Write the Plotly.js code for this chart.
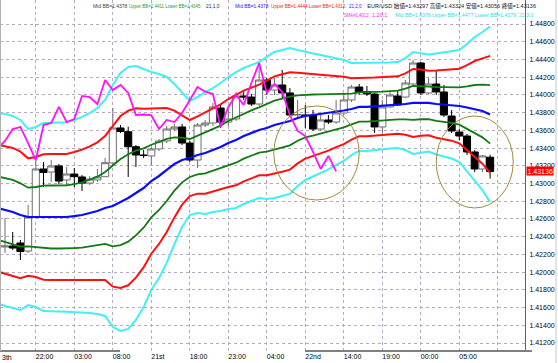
<!DOCTYPE html>
<html><head><meta charset="utf-8">
<script src="https://cdn.plot.ly/plotly-3.0.1.min.js"></script>
<style>html,body{margin:0;padding:0;background:#fff}#chart{width:558px;height:363px}</style>
</head><body><div id="chart"></div>
<script>
// ---- data (EUR/USD hourly bars) ----
const open = [1.42306,1.42284,1.42295,1.42329,1.42238,1.42622,1.43164,1.43130,1.43198,1.43040,
1.43107,1.43074,1.43005,1.43040,1.43077,1.43232,1.43627,1.43585,1.43415,1.43322,
1.43311,1.43390,1.43480,1.43615,1.43638,1.43457,1.43265,1.43660,1.43683,1.43852,
1.43694,1.43728,1.43988,1.43976,1.43897,1.44168,1.44055,1.44112,1.44022,1.43773,
1.43773,1.43773,1.43615,1.43717,1.43694,1.43796,1.43943,1.44089,1.44036,1.44010,
1.43638,1.43864,1.43988,1.43976,1.44123,1.44360,1.44022,1.44123,1.44033,1.43762,
1.43581,1.43536,1.43356,1.43164,1.43297];
const high = [1.42385,1.42611,1.42453,1.42363,1.42758,1.43277,1.43243,1.43265,1.43220,1.43186,
1.43175,1.43096,1.43085,1.43164,1.43288,1.43852,1.43660,1.43641,1.43435,1.43378,
1.43412,1.43502,1.43649,1.43672,1.43672,1.43480,1.43683,1.43717,1.43909,1.43897,
1.43830,1.44033,1.44033,1.44010,1.44349,1.44191,1.44191,1.44281,1.44078,1.43943,
1.43886,1.43830,1.43773,1.43773,1.43943,1.43999,1.44112,1.44123,1.44101,1.44022,
1.43943,1.44033,1.44055,1.44168,1.44394,1.44371,1.44191,1.44281,1.44112,1.43830,
1.43615,1.43559,1.43378,1.43322,1.43324];
const low = [1.42227,1.42216,1.42250,1.42137,1.42216,1.42611,1.42961,1.43017,1.42994,1.42983,
1.42961,1.42916,1.42983,1.43017,1.43074,1.43209,1.43570,1.43074,1.43186,1.43288,
1.43209,1.43367,1.43457,1.43593,1.43435,1.43243,1.43175,1.43638,1.43649,1.43627,
1.43649,1.43706,1.43943,1.43875,1.43875,1.43999,1.43999,1.43965,1.43751,1.43751,
1.43627,1.43593,1.43593,1.43672,1.43672,1.43773,1.43920,1.43999,1.43988,1.43570,
1.43570,1.43852,1.43875,1.43965,1.44101,1.43999,1.44010,1.43999,1.43751,1.43570,
1.43491,1.43322,1.43130,1.43130,1.43056];
const close = [1.42284,1.42295,1.42272,1.42233,1.42622,1.43164,1.43124,1.43198,1.43028,1.43107,
1.43077,1.43005,1.43051,1.43074,1.43235,1.43627,1.43587,1.43415,1.43322,1.43316,
1.43390,1.43480,1.43615,1.43638,1.43457,1.43265,1.43660,1.43683,1.43864,1.43694,
1.43728,1.43988,1.43976,1.43897,1.44168,1.44055,1.44112,1.44022,1.43773,1.43779,
1.43768,1.43615,1.43717,1.43694,1.43796,1.43943,1.44089,1.44036,1.44010,1.43638,
1.43864,1.43999,1.43886,1.44134,1.44360,1.44022,1.44123,1.44033,1.43773,1.43593,
1.43536,1.43356,1.43164,1.43311,1.43136];
const bbMid = [1.42724,1.42701,1.42679,1.42645,1.42622,1.42622,1.42622,1.42622,1.42622,1.42622,
1.42633,1.42645,1.42667,1.42690,1.42724,1.42746,1.42791,1.42837,1.42893,1.42949,
1.43028,1.43085,1.43153,1.43220,1.43265,1.43288,1.43322,1.43344,1.43378,1.43412,
1.43457,1.43491,1.43536,1.43570,1.43604,1.43627,1.43660,1.43683,1.43706,1.43739,
1.43762,1.43773,1.43785,1.43796,1.43813,1.43824,1.43841,1.43864,1.43864,1.43869,
1.43875,1.43880,1.43886,1.43897,1.43909,1.43912,1.43909,1.43897,1.43892,1.43886,
1.43875,1.43858,1.43841,1.43818,1.43780];
const bbSigma = [0.003574,0.003611,0.003611,0.003574,0.003310,0.003386,0.003536,0.003555,0.003555,0.003562,
0.003611,0.003687,0.003761,0.003874,0.004063,0.004551,0.004853,0.004928,0.004777,0.004477,
0.004100,0.003837,0.003498,0.003010,0.002520,0.002144,0.002181,0.002294,0.002332,0.002407,
0.002483,0.002558,0.002558,0.002558,0.002558,0.002671,0.002746,0.002746,0.002746,0.002558,
0.002407,0.002313,0.002219,0.002125,0.002012,0.001899,0.001730,0.001655,0.001655,0.001636,
0.001617,0.001617,0.001617,0.001730,0.001918,0.001870,0.001824,0.001899,0.001956,0.002012,
0.002106,0.002389,0.002708,0.002972,0.003300];
const smaShift = 20;           // SMA(1) shifted 20 bars back
const timeTickBars = [5,10,15,20,25,30,35,40,45,50,55,60,65];
const timeTickText = ["22:00","03:00","08:00","21st","18:00","23:00","04:00","22nd","14:00","19:00","00:00","05:00",""];
const priceTicks = [1.412,1.414,1.416,1.418,1.420,1.422,1.424,1.426,1.428,1.430,1.432,1.434,1.436,1.438,1.440,1.442,1.444,1.446,1.448];
const lastPrice = 1.43136;

const bars = close.map((_, i) => i);
const band = (k, s) => bbMid.map((m, i) => m + s * k * bbSigma[i]);

const F = "Arial, 'Liberation Sans', 'Noto Sans CJK JP', sans-serif";
const traces = [
  {type:'candlestick', x:bars, open:open, high:high, low:low, close:close,
   increasing:{line:{color:'#6e6e6e', width:1}, fillcolor:'#ffffff'},
   decreasing:{line:{color:'#000000', width:1}, fillcolor:'#000000'},
   whiskerwidth:0, hoverinfo:'skip', showlegend:false},
];
const bandStyle = [[3,'#3ff0f4',2],[2,'#ff1010',2],[1,'#127a12',1.8]];
bandStyle.forEach(([k,c,w]) => {
  [1,-1].forEach(s => traces.push({type:'scatter', mode:'lines', x:bars, y:band(k,s),
     line:{color:c, width:w}, hoverinfo:'skip', showlegend:false}));
});
traces.push({type:'scatter', mode:'lines', x:bars, y:bbMid, line:{color:'#0a0aff', width:2.2}, hoverinfo:'skip', showlegend:false});
traces.push({type:'scatter', mode:'lines', x:bars.slice(0, bars.length - smaShift), y:close.slice(smaShift),
  line:{color:'#ff10ff', width:1.8}, hoverinfo:'skip', showlegend:false});

const PW = 525, PH = 351;
const px = v => v / PW;
const py = v => 1 - v / PH;
// header pieces: [x, y, text, colour, width in px]
const headerParts = [
  [90.7, 6, 'Mid BB=1.4378', '#404040', 35],
  [126.7, 6, 'Upper BB=1.4411 Lower BB=1.4345', '#2e9a2e', 72],
  [204, 6, '21,1,0', '#303030', 14],
  [233, 6, 'Mid BB=1.4378', '#2020ff', 34],
  [269, 6, 'Upper BB=1.4444 Lower BB=1.4312', '#ff2020', 75],
  [347, 6, '21,2,0', '#2020ff', 13],
  [365, 6, 'EUR/USD 始値=1.43297 高値=1.43324 安値=1.43056 終値=1.43136', '#202020', 170],
  [342, 15.5, 'SMA=1.4313', '#ff20ff', 25],
  [370, 15.5, '1,20,1', '#ff20ff', 16],
  [393, 15.5, 'Mid BB=1.4378 Upper BB=1.4477 Lower BB=1.4279  21,3,0', '#30d8f0', 139],
];
const annotations = headerParts.map(([x, y, t, c]) => ({xref:'paper', yref:'paper', x:px(x), y:py(y),
   xanchor:'left', yanchor:'middle', text:t, showarrow:false, font:{family:F, size:6, color:c}}));
annotations.push(
  {xref:'paper', yref:'paper', x:0, y:py(357.5), xanchor:'left', yanchor:'middle', text:'3th', showarrow:false,
   font:{family:F, size:7, color:'#000'}},
  {xref:'paper', yref:'y', x:px(526), y:lastPrice, xanchor:'left', yanchor:'middle', text:lastPrice.toFixed(5),
   showarrow:false, bgcolor:'#ff0000', borderpad:0.5, font:{family:F, size:7, color:'#ffffff'}});
const shapes = [
  {type:'circle', xref:'x', yref:'y', x0:35.9, x1:47.0, y0:1.42814, y1:1.43875, line:{color:'#a08c3c', width:1}},
  {type:'circle', xref:'x', yref:'y', x0:57.0, x1:67.0, y0:1.42724, y1:1.43762, line:{color:'#a08c3c', width:1}},
  {type:'line', xref:'paper', yref:'paper', x0:0, x1:px(120), y0:py(351), y1:py(351), line:{color:'#808080', width:2}},
  {type:'line', xref:'paper', yref:'paper', x0:px(305), x1:px(532), y0:py(351), y1:py(351), line:{color:'#808080', width:2}},
  {type:'line', xref:'paper', yref:'paper', x0:px(556), x1:px(556), y0:py(0), y1:py(363), line:{color:'#c8c8c8', width:1}},
  {type:'line', xref:'paper', yref:'paper', x0:px(0.5), x1:px(0.5), y0:py(0), y1:py(351), line:{color:'#b0b0b0', width:1}},
];

const layout = {
  width:558, height:363, margin:{l:0, r:33, t:0, b:12},
  paper_bgcolor:'#ffffff', plot_bgcolor:'#ffffff', showlegend:false,
  boxgap:0.08, boxgroupgap:0,
  xaxis:{range:[0.35, 68.53], tickvals:timeTickBars, ticktext:timeTickText, ticklabelposition:'outside right',
    showgrid:true, gridcolor:'#b9a6c2', griddash:'dot', gridwidth:1, zeroline:false, ticks:'',
    tickfont:{family:F, size:7, color:'#000'}, rangeslider:{visible:false}, showline:false, fixedrange:true},
  yaxis:{side:'right', range:[1.41110, 1.45071], tickvals:priceTicks, ticktext:priceTicks.map(v => v.toFixed(5)),
    showgrid:true, gridcolor:'#b9a6c2', griddash:'dot', gridwidth:1, zeroline:false, ticks:'',
    ticklabelstandoff:2, showline:true, linecolor:'#606060', linewidth:1,
    tickfont:{family:F, size:7, color:'#000'}, fixedrange:true},
  annotations:annotations, shapes:shapes,
};
Plotly.newPlot('chart', traces, layout, {staticPlot:true, displayModeBar:false}).then(gd => {
  // squeeze the tiny header texts horizontally to the widths they take in the original
  headerParts.forEach((p, i) => {
    const g = gd.querySelector('.annotation[data-index="' + i + '"] text.annotation-text');
    if (!g) return;
    const bb = g.getBBox();
    if (bb.width > 0) {
      const s = p[4] / bb.width;
      g.setAttribute('transform', 'translate(' + bb.x + ',0) scale(' + s + ',1) translate(' + (-bb.x) + ',0)');
    }
  });
});
</script></body></html>
